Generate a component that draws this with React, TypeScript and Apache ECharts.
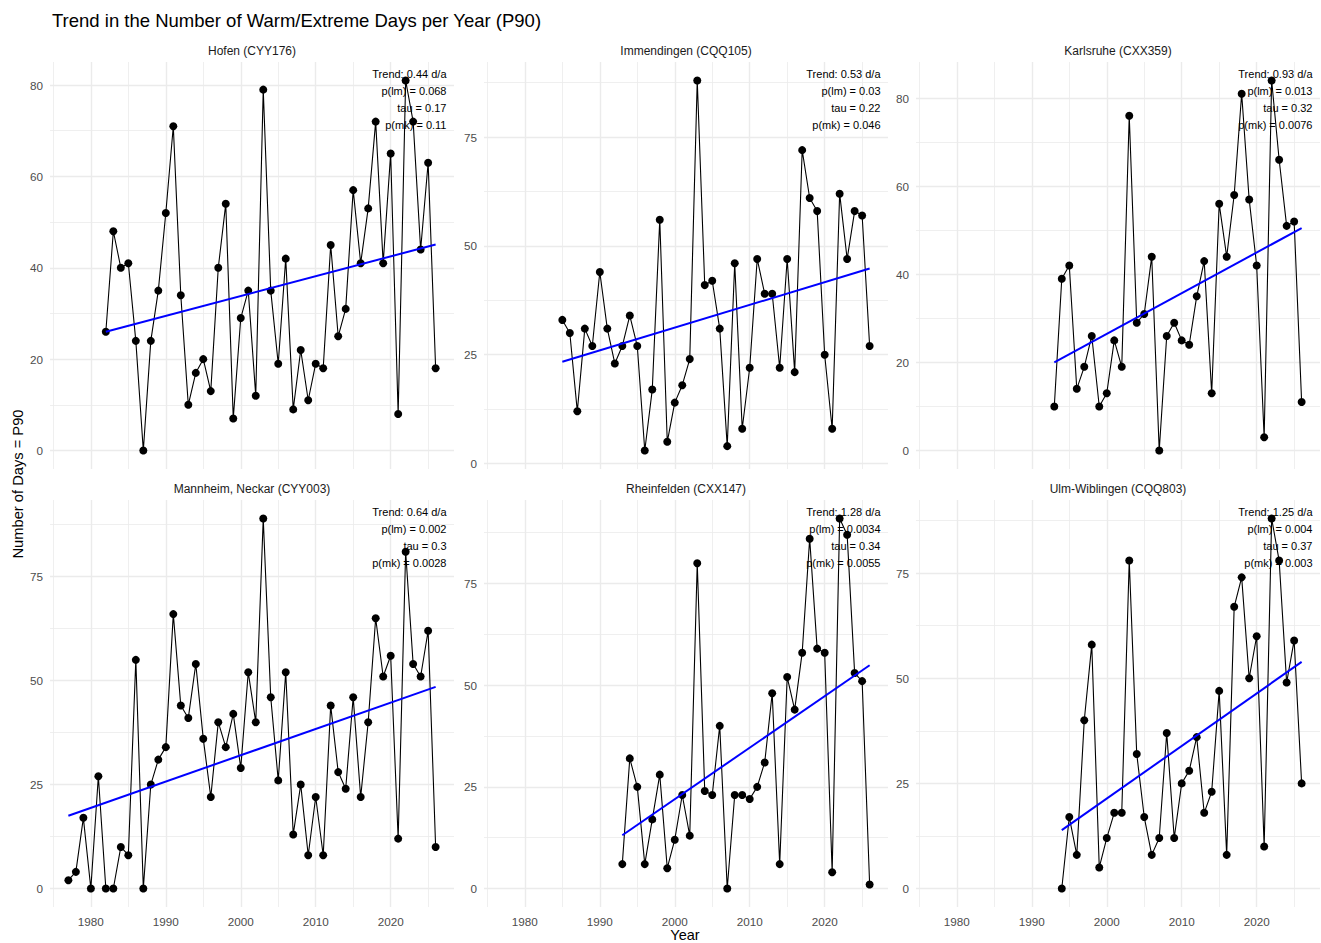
import React, { useEffect, useRef } from "react";
import * as echarts from "echarts";

// ---------------- data ----------------
const stations = [
  "Hofen (CYY176)",
  "Immendingen (CQQ105)",
  "Karlsruhe (CXX359)",
  "Mannheim, Neckar (CYY003)",
  "Rheinfelden (CXX147)",
  "Ulm-Wiblingen (CQQ803)",
];

const firstYears = [1982, 1985, 1993, 1977, 1993, 1994];

const hofen = [26, 48, 40, 41, 24, 0, 24, 35, 52, 71, 34, 10, 17, 20, 13, 40, 54, 7, 29, 35, 12, 79, 35, 19, 42, 9, 22, 11, 19, 18, 45, 25, 31, 57, 41, 53, 72, 41, 65, 8, 81, 72, 44, 63, 18];
const immendingen = [33, 30, 12, 31, 27, 44, 31, 23, 27, 34, 27, 3, 17, 56, 5, 14, 18, 24, 88, 41, 42, 31, 4, 46, 8, 22, 47, 39, 39, 22, 47, 21, 72, 61, 58, 25, 8, 62, 47, 58, 57, 27];
const karlsruhe = [10, 39, 42, 14, 19, 26, 10, 13, 25, 19, 76, 29, 31, 44, 0, 26, 29, 25, 24, 35, 43, 13, 56, 44, 58, 81, 57, 42, 3, 84, 66, 51, 52, 11];
const mannheim = [2, 4, 17, 0, 27, 0, 0, 10, 8, 55, 0, 25, 31, 34, 66, 44, 41, 54, 36, 22, 40, 34, 42, 29, 52, 40, 89, 46, 26, 52, 13, 25, 8, 22, 8, 44, 28, 24, 46, 22, 40, 65, 51, 56, 12, 81, 54, 51, 62, 10];
const rheinfelden = [6, 32, 25, 6, 17, 28, 5, 12, 23, 13, 80, 24, 23, 40, 0, 23, 23, 22, 25, 31, 48, 6, 52, 44, 58, 86, 59, 58, 4, 91, 87, 53, 51, 1];
const ulm = [0, 17, 8, 40, 58, 5, 12, 18, 18, 78, 32, 17, 8, 12, 37, 12, 25, 28, 36, 18, 23, 47, 8, 67, 74, 50, 60, 10, 88, 78, 49, 59, 25];

const seriesValues = [hofen, immendingen, karlsruhe, mannheim, rheinfelden, ulm];

// linear trend line end values
const trendStart = [26.0, 23.4, 20.0, 17.5, 13.1, 13.9];
const trendEnd = [45.1, 44.8, 50.5, 48.5, 54.9, 53.9];

const trendText = ["0.44", "0.53", "0.93", "0.64", "1.28", "1.25"];
const pLmText = ["0.068", "0.03", "0.013", "0.002", "0.0034", "0.004"];
const tauText = ["0.17", "0.22", "0.32", "0.3", "0.34", "0.37"];
const pMkText = ["0.11", "0.046", "0.0076", "0.0028", "0.0055", "0.003"];

const yTicks = [
  [0, 20, 40, 60, 80],
  [0, 25, 50, 75],
  [0, 20, 40, 60, 80],
  [0, 25, 50, 75],
  [0, 25, 50, 75],
  [0, 25, 50, 75],
];
const xTicks = [1980, 1990, 2000, 2010, 2020];
const xMinorTicks = [1975, 1985, 1995, 2005, 2015, 2025];

const chartTitle = "Trend in the Number of Warm/Extreme Days per Year (P90)";
const xTitle = "Year";
const yTitle = "Number of Days = P90";

// ---------------- layout ----------------
const FONT = "'Liberation Sans', Arial, Helvetica, sans-serif";
const colLeft = [50, 484, 916];
const rowTop = [62, 500];
const panelW = 404;
const panelH = 407;
const X_MIN = 1974.55;
const X_MAX = 2028.45;
const GRID = "#EBEBEB";

function buildOption() {
  const grids: any[] = [];
  const xAxes: any[] = [];
  const yAxes: any[] = [];
  const series: any[] = [];
  const graphics: any[] = [];

  graphics.push({
    type: "text",
    x: 52,
    y: 20,
    style: {
      text: chartTitle,
      fill: "#000",
      font: `18.5px ${FONT}`,
      align: "left",
      verticalAlign: "middle",
      textAlign: "left",
      textVerticalAlign: "middle",
    },
  });
  graphics.push({
    type: "text",
    x: 685,
    y: 935,
    style: {
      text: xTitle,
      fill: "#000",
      font: `14.5px ${FONT}`,
      align: "center",
      verticalAlign: "middle",
      textAlign: "center",
      textVerticalAlign: "middle",
    },
  });
  graphics.push({
    type: "text",
    x: 18,
    y: 484,
    rotation: Math.PI / 2,
    style: {
      text: yTitle,
      fill: "#000",
      font: `14.7px ${FONT}`,
      align: "center",
      verticalAlign: "middle",
      textAlign: "center",
      textVerticalAlign: "middle",
    },
  });

  for (let i = 0; i < 6; i++) {
    const row = Math.floor(i / 3);
    const col = i % 3;
    const left = colLeft[col];
    const top = rowTop[row];
    const vals = seriesValues[i];
    const years = vals.map((_, k) => firstYears[i] + k);
    const vMin = Math.min(...vals);
    const vMax = Math.max(...vals);
    const pad = (vMax - vMin) * 0.05;
    const yMin = vMin - pad;
    const yMax = vMax + pad;

    const ticks = yTicks[i];
    const step = ticks[1] - ticks[0];
    const yMinor: number[] = [];
    for (let t = ticks[0] - step / 2; t <= yMax; t += step) {
      if (t >= yMin) yMinor.push(t);
    }

    grids.push({ left, top, width: panelW, height: panelH, containLabel: false });
    xAxes.push({
      type: "value",
      gridIndex: i,
      min: X_MIN,
      max: X_MAX,
      axisLine: { show: false },
      axisTick: { show: false },
      splitLine: { show: false },
      axisLabel: {
        show: row === 1,
        customValues: xTicks,
        formatter: (v: number) => String(v),
        color: "#4D4D4D",
        fontSize: 11.7,
        fontFamily: FONT,
        margin: 8,
      },
    });
    yAxes.push({
      type: "value",
      gridIndex: i,
      min: yMin,
      max: yMax,
      axisLine: { show: false },
      axisTick: { show: false },
      splitLine: { show: false },
      axisLabel: {
        customValues: ticks,
        formatter: (v: number) => String(v),
        color: "#4D4D4D",
        fontSize: 11.7,
        fontFamily: FONT,
        margin: 7,
      },
    });

    const gridLines: any[] = [];
    xMinorTicks.forEach((v) => gridLines.push({ xAxis: v, lineStyle: { color: GRID, width: 0.8, type: "solid" } }));
    yMinor.forEach((v) => gridLines.push({ yAxis: v, lineStyle: { color: GRID, width: 0.8, type: "solid" } }));
    xTicks.forEach((v) => gridLines.push({ xAxis: v, lineStyle: { color: GRID, width: 1.4, type: "solid" } }));
    ticks.forEach((v) => gridLines.push({ yAxis: v, lineStyle: { color: GRID, width: 1.4, type: "solid" } }));

    series.push({
      type: "line",
      xAxisIndex: i,
      yAxisIndex: i,
      data: [[years[0], vals[0]]],
      symbol: "none",
      lineStyle: { opacity: 0 },
      silent: true,
      z: 0,
      zlevel: 0,
      markLine: {
        silent: true,
        z: 0,
        symbol: ["none", "none"],
        label: { show: false },
        emphasis: { disabled: true },
        animation: false,
        data: gridLines,
      },
    });

    series.push({
      type: "line",
      xAxisIndex: i,
      yAxisIndex: i,
      data: years.map((y, k) => [y, vals[k]]),
      symbol: "circle",
      symbolSize: 8,
      showSymbol: true,
      itemStyle: { color: "#000" },
      lineStyle: { color: "#000", width: 1.1 },
      emphasis: { disabled: true },
      silent: true,
      z: 6,
    });

    series.push({
      type: "line",
      xAxisIndex: i,
      yAxisIndex: i,
      data: [
        [years[0], trendStart[i]],
        [years[years.length - 1], trendEnd[i]],
      ],
      symbol: "none",
      lineStyle: { color: "#0000FF", width: 2 },
      emphasis: { disabled: true },
      silent: true,
      z: 7,
    });

    // strip title
    graphics.push({
      type: "text",
      x: left + panelW / 2,
      y: top - 11,
      style: {
        text: stations[i],
        fill: "#1A1A1A",
        font: `12px ${FONT}`,
        align: "center",
        verticalAlign: "middle",
        textAlign: "center",
        textVerticalAlign: "middle",
      },
    });

    const statLines = [
      `Trend: ${trendText[i]} d/a`,
      `p(lm) = ${pLmText[i]}`,
      `tau = ${tauText[i]}`,
      `p(mk) = ${pMkText[i]}`,
    ];
    statLines.forEach((s, k) => {
      graphics.push({
        type: "text",
        x: left + panelW - 7.5,
        y: top + 12 + k * 17,
        z: 10,
        style: {
          text: s,
          fill: "#000",
          font: `11px ${FONT}`,
          align: "right",
          verticalAlign: "middle",
          textAlign: "right",
          textVerticalAlign: "middle",
        },
      });
    });
  }

  return {
    animation: false,
    backgroundColor: "#FFFFFF",
    textStyle: { fontFamily: FONT },
    grid: grids,
    xAxis: xAxes,
    yAxis: yAxes,
    series,
    graphic: { elements: graphics },
  };
}

export default function App() {
  const ref = useRef<HTMLDivElement>(null);
  useEffect(() => {
    document.body.style.margin = "0";
    if (!ref.current) return;
    const chart = echarts.init(ref.current, undefined, { renderer: "svg" });
    chart.setOption(buildOption() as any);
    return () => {
      chart.dispose();
    };
  }, []);
  return <div ref={ref} style={{ width: 1321, height: 943, background: "#fff" }} />;
}
